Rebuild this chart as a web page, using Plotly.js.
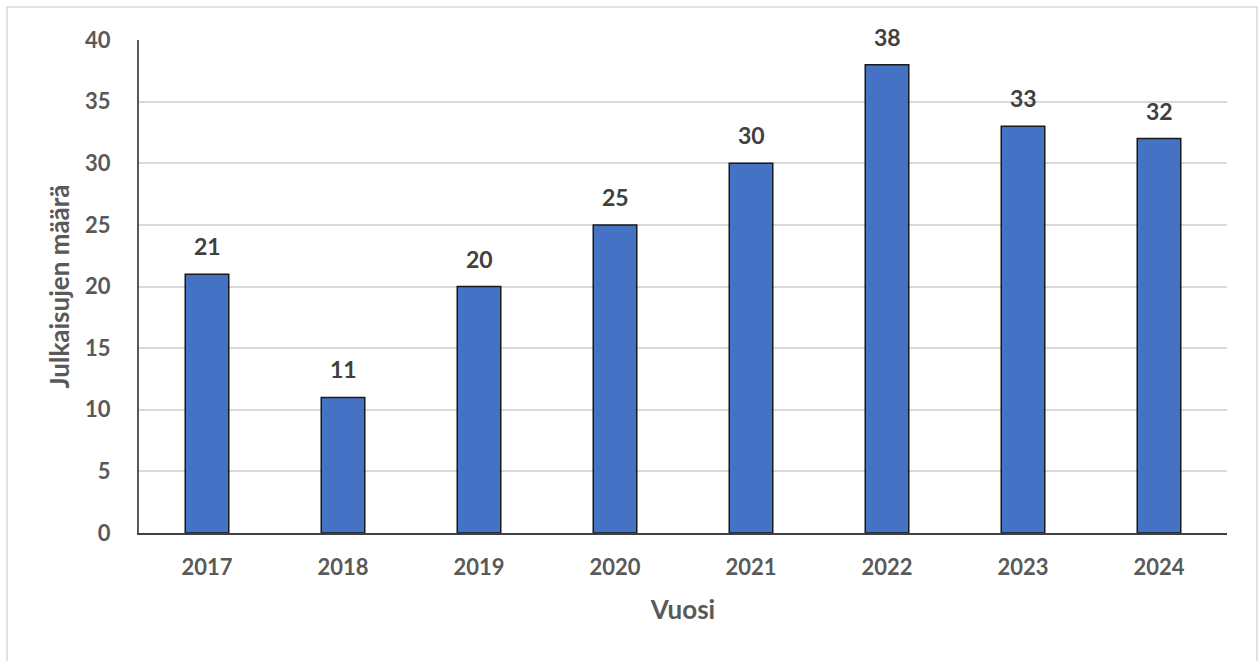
<!DOCTYPE html>
<html>
<head>
<meta charset="utf-8">
<script src="https://cdn.plot.ly/plotly-3.0.1.min.js"></script>
<style>html,body{margin:0;padding:0;background:#fff;}#chart{width:1260px;height:661px;}</style>
</head>
<body>
<div id="chart"></div>
<script>
const years = ["2017", "2018", "2019", "2020", "2021", "2022", "2023", "2024"];
const counts = [21, 11, 20, 25, 30, 38, 33, 32];
const xTitle = "Vuosi";
const yTitle = "Julkaisujen määrä";

const FONT = "Lato, 'Open Sans', sans-serif";
const trace = {
  type: "bar",
  x: years,
  y: counts,
  width: 0.32,
  marker: { color: "#4472C4", line: { color: "#1a1a1a", width: 1.5 } },
  hoverinfo: "x+y"
};

// category axis: annotations positioned by category index
const annotations = years.map((yr, i) => ({
  x: i, y: counts[i], xref: "x", yref: "y",
  text: "<b>" + counts[i] + "</b>",
  showarrow: false, yanchor: "bottom", yshift: 12,
  font: { family: FONT, size: 23, color: "#404040" }
}));

const layout = {
  width: 1260, height: 661,
  margin: { l: 139, r: 33, t: 40, b: 128 },
  paper_bgcolor: "#fff", plot_bgcolor: "#fff",
  showlegend: false,
  xaxis: {
    type: "category",
    range: [-0.5, years.length - 0.5],
    showgrid: false,
    showline: true, linecolor: "#404040", linewidth: 2,
    ticks: "", ticklabelstandoff: 14,
    tickfont: { family: FONT, size: 22, color: "#595959", weight: "bold" },
    title: { text: "<b>" + xTitle + "</b>", standoff: 21, font: { family: FONT, size: 26, color: "#595959" } },
    fixedrange: true
  },
  yaxis: {
    range: [0, 40], dtick: 5, tick0: 0,
    showgrid: true, gridcolor: "#d9d9d9", gridwidth: 1.5,
    showline: true, linecolor: "#595959", linewidth: 2,
    zeroline: false,
    ticks: "", ticklabelstandoff: 22,
    tickfont: { family: FONT, size: 22, color: "#595959", weight: "bold" },
    title: { text: "<b>" + yTitle + "</b>", standoff: 8, font: { family: FONT, size: 26, color: "#595959" } },
    fixedrange: true
  },
  annotations: annotations,
  shapes: [{
    type: "rect", xref: "paper", yref: "paper",
    x0: (7 - 139) / 1088, x1: (1257 - 139) / 1088,
    y0: (533 - 668) / 493, y1: (533 - 7) / 493,
    line: { color: "#d9d9d9", width: 1.5 }, fillcolor: "rgba(0,0,0,0)", layer: "below"
  }]
};

Plotly.newPlot("chart", [trace], layout, { displayModeBar: false });
</script>
</body>
</html>
